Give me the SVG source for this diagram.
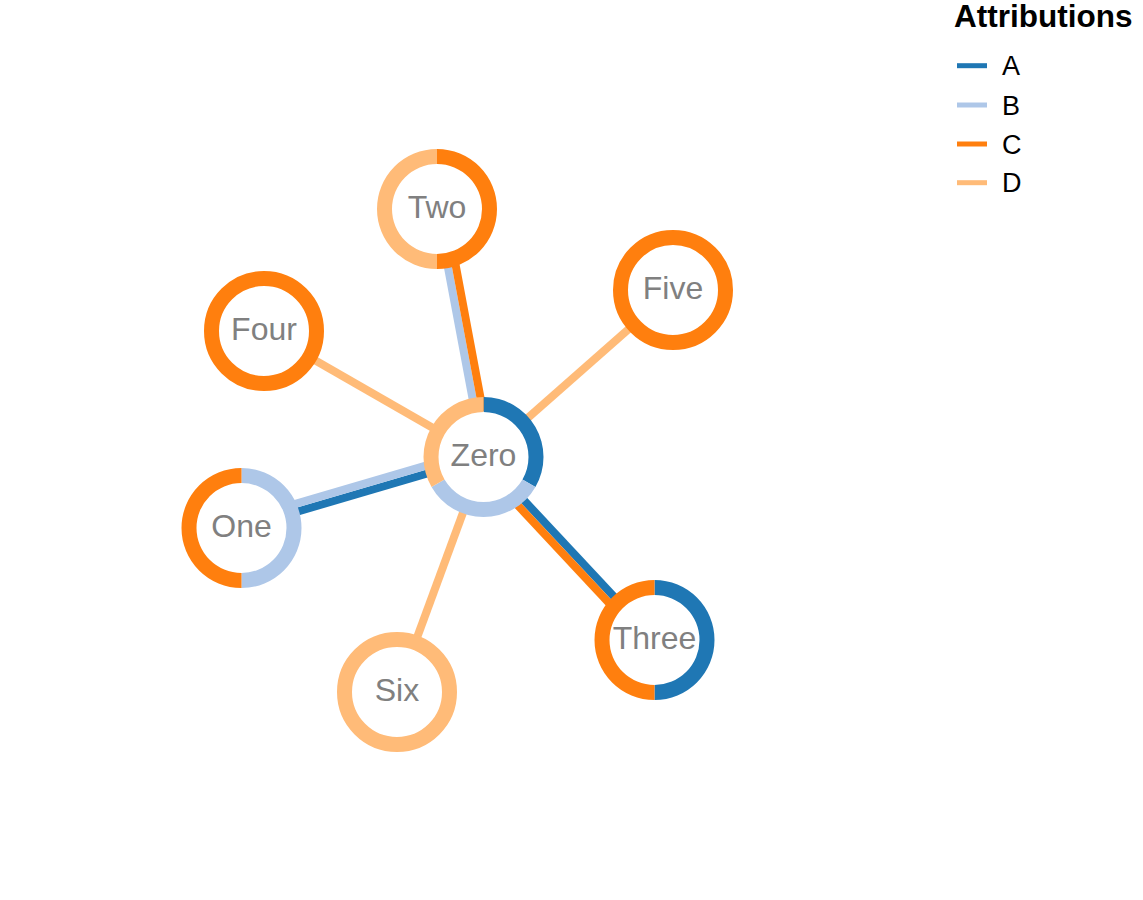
<svg xmlns="http://www.w3.org/2000/svg" width="1143" height="900" viewBox="0 0 1143 900">
<style>
.e{stroke-width:8;fill:none;stroke-linecap:butt}
.a{stroke:#1f77b4;fill:#1f77b4}
.b{stroke:#aec7e8;fill:#aec7e8}
.c{stroke:#ff7f0e;fill:#ff7f0e}
.d{stroke:#ffbb78;fill:#ffbb78}
.ring{fill:#fff;stroke-width:15}
.seg{stroke:none}
.in{fill:#fff}
.lbl{font-family:"Liberation Sans",Arial,sans-serif;font-size:32px;fill:#808080;text-anchor:middle}
.lg{font-family:"Liberation Sans",Arial,sans-serif;font-size:27px;fill:#000}
.lgl{stroke-width:5}
</style>
<rect width="1143" height="900" fill="#fff"/>
<g id="edges">
<line class="e a" x1="483.5" y1="457" x2="241.5" y2="528"/>
<line class="e b" x1="481.25" y1="449.32" x2="239.25" y2="520.32"/>
<line class="e b" x1="483.5" y1="457" x2="437" y2="209"/>
<line class="e c" x1="491.36" y1="455.53" x2="444.86" y2="207.53"/>
<line class="e a" x1="483.5" y1="457" x2="654.5" y2="640"/>
<line class="e c" x1="477.66" y1="462.46" x2="648.66" y2="645.46"/>
<line class="e d" x1="483.5" y1="457" x2="264" y2="331"/>
<line class="e d" x1="483.5" y1="457" x2="673" y2="290"/>
<line class="e d" x1="483.5" y1="457" x2="397" y2="692"/>
</g>
<g id="node-zero">
<circle class="in" cx="483.5" cy="457" r="46"/>
<path class="seg a" d="M483.5,397 A60,60 0 0 1 535.46,487 L522.47,479.5 A45,45 0 0 0 483.5,412 Z"/>
<path class="seg b" d="M535.46,487 A60,60 0 0 1 431.54,487 L444.53,479.5 A45,45 0 0 0 522.47,479.5 Z"/>
<path class="seg d" d="M431.54,487 A60,60 0 0 1 483.5,397 L483.5,412 A45,45 0 0 0 444.53,479.5 Z"/>
<text class="lbl" x="483.5" y="466">Zero</text>
</g>
<g id="node-one">
<circle class="in" cx="241.5" cy="528" r="46"/>
<path class="seg b" d="M241.5,468 A60,60 0 0 1 241.5,588 L241.5,573 A45,45 0 0 0 241.5,483 Z"/>
<path class="seg c" d="M241.5,588 A60,60 0 0 1 241.5,468 L241.5,483 A45,45 0 0 0 241.5,573 Z"/>
<text class="lbl" x="241.5" y="537">One</text>
</g>
<g id="node-two">
<circle class="in" cx="437" cy="209" r="46"/>
<path class="seg c" d="M437,149 A60,60 0 0 1 437,269 L437,254 A45,45 0 0 0 437,164 Z"/>
<path class="seg d" d="M437,269 A60,60 0 0 1 437,149 L437,164 A45,45 0 0 0 437,254 Z"/>
<text class="lbl" x="437" y="218">Two</text>
</g>
<g id="node-three">
<circle class="in" cx="654.5" cy="640" r="46"/>
<path class="seg a" d="M654.5,580 A60,60 0 0 1 654.5,700 L654.5,685 A45,45 0 0 0 654.5,595 Z"/>
<path class="seg c" d="M654.5,700 A60,60 0 0 1 654.5,580 L654.5,595 A45,45 0 0 0 654.5,685 Z"/>
<text class="lbl" x="654.5" y="649">Three</text>
</g>
<g id="node-four">
<circle class="ring c" cx="264" cy="331" r="52.5" style="fill:#fff"/>
<text class="lbl" x="264" y="340">Four</text>
</g>
<g id="node-five">
<circle class="ring c" cx="673" cy="290" r="52.5" style="fill:#fff"/>
<text class="lbl" x="673" y="299">Five</text>
</g>
<g id="node-six">
<circle class="ring d" cx="397" cy="692" r="52.5" style="fill:#fff"/>
<text class="lbl" x="397" y="701">Six</text>
</g>
<g id="legend">
<text x="954" y="27" style="font-family:'Liberation Sans',Arial,sans-serif;font-size:31.5px;font-weight:bold;fill:#000">Attributions</text>
<line class="lgl a" x1="957" y1="65.7" x2="987" y2="65.7"/>
<text class="lg" x="1002" y="75">A</text>
<line class="lgl b" x1="957" y1="105" x2="987" y2="105"/>
<text class="lg" x="1002" y="114.5">B</text>
<line class="lgl c" x1="957" y1="144" x2="987" y2="144"/>
<text class="lg" x="1002" y="153.5">C</text>
<line class="lgl d" x1="957" y1="182.7" x2="987" y2="182.7"/>
<text class="lg" x="1002" y="192">D</text>
</g>
</svg>
